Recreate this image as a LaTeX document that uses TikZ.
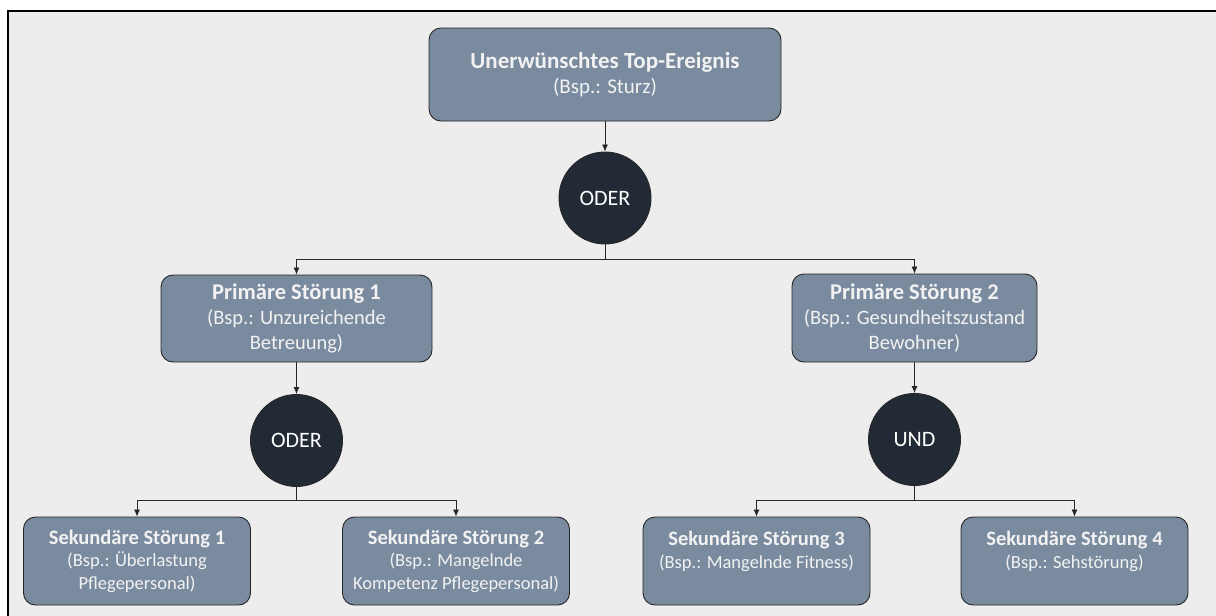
\documentclass[tikz,border=0pt]{standalone}
\usepackage{fontspec}
\setmainfont{Carlito}
\usepackage{tikz}
\usetikzlibrary{arrows.meta,positioning,calc}

\definecolor{boxfill}{RGB}{122,139,160}
\definecolor{gatefill}{RGB}{34,43,53}
\definecolor{paper}{RGB}{237,237,237}
\definecolor{boxtext}{RGB}{242,242,242}

\newcommand{\evtitle}[2]{{\fontsize{#1}{25}\selectfont\bfseries #2}}

\begin{document}
\begin{tikzpicture}[x=1pt,y=-1pt,
          event/.style={draw=black!85, fill=boxfill, rounded corners=12pt, line width=0.9pt,
                        text=boxtext, align=center, inner sep=0pt},
          bigevent/.style={event, font={\fontsize{20.5}{25}\selectfont}},
          smallevent/.style={event, minimum width=227pt, minimum height=88pt,
                        font={\fontsize{18.5}{22.5}\selectfont}},
          gate/.style={circle, draw=black!85, fill=gatefill, line width=0.9pt, minimum size=92pt,
                        inner sep=0pt, text=white, font={\fontsize{22}{25}\selectfont}},
          link/.style={black!85, line width=0.8pt, -{Latex[length=7pt,width=6pt]}},
          bus/.style={black!85, line width=0.8pt}
        ]
          % Rahmen
          \useasboundingbox (0,0) rectangle (1216,616);
          \begin{scope}
            \clip (0,0) rectangle (1216,616);
            \fill[white] (0,0) rectangle (1216,616);
            \draw[fill=paper, line width=2pt] (8,11) rectangle (1240,640);
          \end{scope}

          % Top-Ereignis
          \node[bigevent, minimum width=352pt, minimum height=93pt] (top) at (605,74.5)
            {\evtitle{23}{Unerwünschtes Top-Ereignis}\\{\fontsize{21}{25}\selectfont(Bsp.: Sturz)}};
          \node[gate] (orTop) at (605,198) {ODER};

          % Primäre Störungen
          \node[bigevent, minimum width=271pt, minimum height=87pt] (prim1) at (296.5,318.5)
            {\evtitle{22.5}{Primäre Störung 1}\\(Bsp.: Unzureichende\\Betreuung)};
          \node[bigevent, minimum width=245pt, minimum height=88pt] (prim2) at (914.5,318)
            {\evtitle{22.5}{Primäre Störung 2}\\(Bsp.: Gesundheitszustand\\Bewohner)};

          \node[gate] (orLeft) at (296.5,440.5) {ODER};
          \node[gate] (andRight) at (914.5,439.5) {UND};

          % Sekundäre Störungen
          \node[smallevent] (sec1) at (137,561)
            {\evtitle{20.5}{Sekundäre Störung 1}\\(Bsp.: Überlastung\\Pflegepersonal)};
          \node[smallevent] (sec2) at (456,561)
            {\evtitle{20.5}{Sekundäre Störung 2}\\(Bsp.: Mangelnde\\Kompetenz Pflegepersonal)};
          \node[smallevent] (sec3) at (756.5,561)
            {\evtitle{20.5}{Sekundäre Störung 3}\\(Bsp.: Mangelnde Fitness)\\\mbox{}};
          \node[smallevent] (sec4) at (1074.5,561)
            {\evtitle{20.5}{Sekundäre Störung 4}\\(Bsp.: Sehstörung)\\\mbox{}};

          % Verzweigungen
          \coordinate (busTop) at (605,259);
          \coordinate (busLeft) at (296.5,500);
          \coordinate (busRight) at (914.5,500);

          % Verbindungen
          \draw[link] (top) -- (orTop);
          \draw[bus] (orTop) -- (busTop);
          \draw[link] (busTop) -| (prim1);
          \draw[link] (busTop) -| (prim2);

          \draw[link] (prim1) -- (orLeft);
          \draw[link] (prim2) -- (andRight);

          \draw[bus] (orLeft) -- (busLeft);
          \draw[link] (busLeft) -| (sec1);
          \draw[link] (busLeft) -| (sec2);
          \draw[bus] (andRight) -- (busRight);
          \draw[link] (busRight) -| (sec3);
          \draw[link] (busRight) -| (sec4);
        \end{tikzpicture}
\end{document}
